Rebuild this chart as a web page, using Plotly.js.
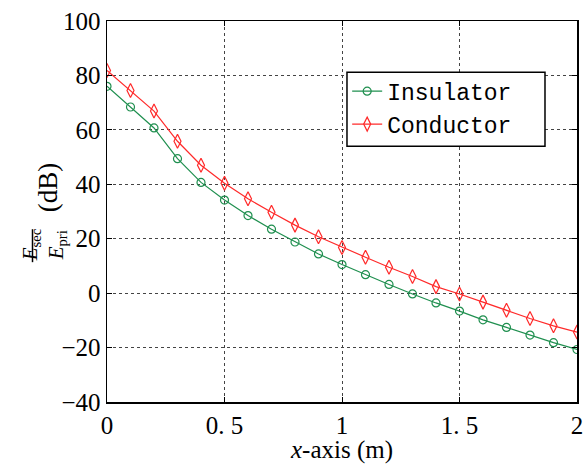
<!DOCTYPE html>
<html><head><meta charset="utf-8">
<script src="https://cdn.plot.ly/plotly-3.0.1.min.js"></script>
<style>html,body{margin:0;padding:0;background:#fff}#chart{width:584px;height:464px}</style>
</head><body><div id="chart"></div>
<script>
const xPos = [0,0.1,0.2,0.3,0.4,0.5,0.6,0.7,0.8,0.9,1.0,1.1,1.2,1.3,1.4,1.5,1.6,1.7,1.8,1.9,2.0];
const insulator = [76,68.4,60.7,49.4,40.7,34.2,28.5,23.5,18.8,14.4,10.5,6.8,3.2,-0.3,-3.6,-6.6,-9.8,-12.6,-15.4,-18.2,-20.7];
const conductor = [81.8,74.5,66.9,55.8,47,40.4,34.7,29.7,25,20.7,16.8,13.2,9.5,6.1,2.4,-0.3,-3.3,-6.3,-9.3,-12.0,-14.3];
const xTickVals = [0,0.5,1,1.5,2];
const xTickText = ['0','0. 5','1','1. 5','2'];
const yTickVals = [-40,-20,0,20,40,60,80,100];
const yTickText = ['\u221240','\u221220','0','20','40','60','80','100'];

const SERIF = 'Liberation Serif';
const tickFont = {family:SERIF, size:25, color:'#000'};
const traces = [
  {x:xPos, y:insulator, name:'Insulator', mode:'lines+markers',
   line:{color:'#1f8f4f', width:1.2},
   marker:{symbol:'circle-open', size:8, color:'#1f8f4f', line:{width:1.2}}},
  {x:xPos, y:conductor, name:'Conductor', mode:'lines+markers',
   line:{color:'#ff2a2a', width:1.2},
   marker:{symbol:'diamond-tall-open', size:10, color:'#ff2a2a', line:{width:1.2}}}
];
const axisCommon = {showline:true, linecolor:'#000', linewidth:1.5, mirror:'ticks',
  ticks:'inside', ticklen:5, tickwidth:1, tickcolor:'#000',
  showgrid:true, gridcolor:'#444', griddash:'dot', gridwidth:1, zeroline:false,
  tickfont:tickFont};
const layout = {
  width:584, height:464, paper_bgcolor:'#fff', plot_bgcolor:'#fff',
  margin:{l:107, r:7, t:20.5, b:62},
  showlegend:true,
  legend:{x:0.511, y:0.872, xanchor:'left', yanchor:'top',
    bgcolor:'rgba(0,0,0,0)', borderwidth:0,
    font:{family:'Liberation Mono', size:23, color:'#000'}},
  xaxis:Object.assign({}, axisCommon, {range:[0,2], tickmode:'array', tickvals:xTickVals, ticktext:xTickText,
    title:{text:'<i>x</i>-axis (m)', font:{family:SERIF, size:25, color:'#000'}, standoff:2}}),
  yaxis:Object.assign({}, axisCommon, {range:[-40,100], tickmode:'array', tickvals:yTickVals, ticktext:yTickText}),
  annotations:[
    {xref:'paper', yref:'paper', x:-0.1936, y:0.4115, text:'<i>E</i><sub>sec</sub>', showarrow:false, textangle:-90,
     font:{family:SERIF, size:21, color:'#000'}},
    {xref:'paper', yref:'paper', x:-0.1380, y:0.4115, text:'<i>E</i><sub>pri</sub>', showarrow:false, textangle:-90,
     font:{family:SERIF, size:21, color:'#000'}},
    {xref:'paper', yref:'paper', x:-0.1617, y:0.5636, text:'(dB)', showarrow:false, textangle:-90,
     font:{family:SERIF, size:27, color:'#000'}}
  ],
  shapes:[
    {type:'line', xref:'paper', yref:'paper', x0:-0.1585, x1:-0.1585, y0:0.367, y1:0.4535, line:{color:'#000', width:1.5}},
    {type:'rect', xref:'paper', yref:'paper', layer:'above', x0:0.5106, x1:0.9319, y0:0.671, y1:0.8658,
     fillcolor:'#fff', line:{color:'#000', width:1.5}}
  ]
};
Plotly.newPlot('chart', traces, layout, {displayModeBar:false, staticPlot:true});
</script></body></html>
